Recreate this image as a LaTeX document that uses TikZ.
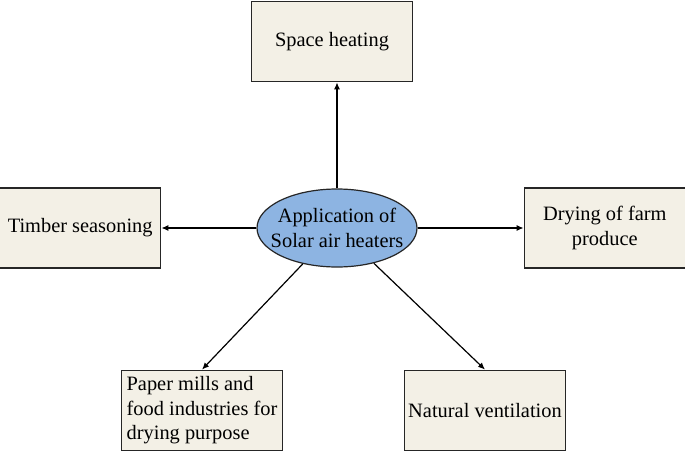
\documentclass[tikz,border=0pt]{standalone}
\usepackage{fontspec}
\setmainfont{Liberation Serif}
\usepackage{tikz}
\usetikzlibrary{positioning,shapes.geometric,arrows.meta}

\definecolor{boxfill}{HTML}{F3F0E6}
\definecolor{ellfill}{HTML}{8DB4E2}
\definecolor{edge}{HTML}{262626}

\begin{document}
\begin{tikzpicture}[
x=1pt,
y=-1pt,
node distance=100pt,
every node/.style={
font=\fontsize{20.4}{24.5}\selectfont
},
box/.style={
draw=edge,
fill=boxfill,
line width=1.4pt,
align=center,
inner sep=3pt,
minimum width=161pt,
minimum height=80pt
},
centre/.style={
draw=edge,
fill=ellfill,
ellipse,
line width=1.2pt,
align=center,
inner xsep=-12pt,
inner ysep=0pt,
minimum width=160pt,
minimum height=78pt
},
arrow/.style={
-{Latex[length=7pt,width=6pt]},
line width=1.2pt,
draw=black
}
]

\useasboundingbox (0,0) rectangle (685,452);


% Centre

\node (app) [centre] at (337,228)
{Application of\\
Solar air heaters};


% Applications

\node (heating) [box, above=106pt of app, xshift=-5pt]
{Space heating};

\node (timber) [box, left=95pt of app]
{Timber seasoning};

\node (drying) [box, right=106pt of app]
{Drying of farm\\
produce};

\node (paper) [box, align=left, below=102pt of app, xshift=-135pt]
{Paper mills and\\
food industries for\\
drying purpose};

\node (vent) [box, below=102pt of app, xshift=148pt]
{Natural ventilation};


\draw[arrow] (app) -- (app.north |- heating.south);
\draw[arrow] (app) -- (timber);
\draw[arrow] (app) -- (drying);
\draw[arrow] (app) -- (paper.north);
\draw[arrow] (app) -- (vent.north);


\end{tikzpicture}
\end{document}
